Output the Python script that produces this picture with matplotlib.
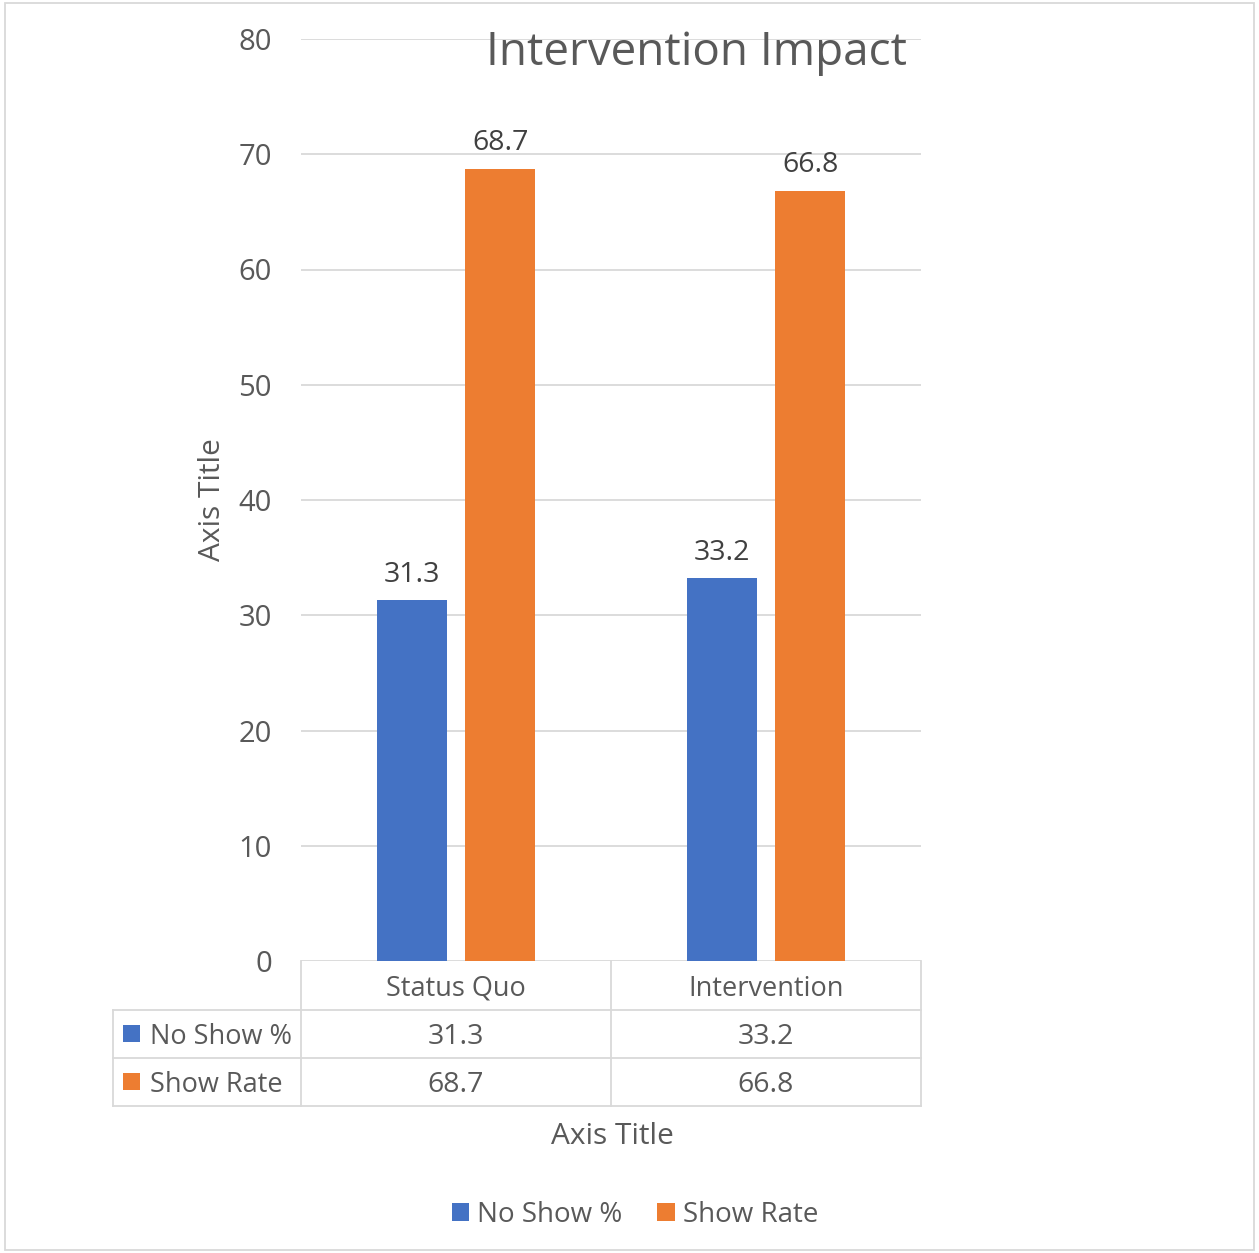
import matplotlib
matplotlib.use("Agg")
import matplotlib.pyplot as plt
from matplotlib.patches import Rectangle
from matplotlib.transforms import blended_transform_factory
import numpy as np

plt.rcParams['font.family'] = ['Open Sans', 'DejaVu Sans']

# Chart data
categories = ["Status Quo", "Intervention"]
no_show = [31.3, 33.2]
show_rate = [68.7, 66.8]
series_names = ["No Show %", "Show Rate"]
y_ticks = [0, 10, 20, 30, 40, 50, 60, 70, 80]
title = "Intervention Impact"

BLUE = "#4472C4"
ORANGE = "#ED7D31"
GRID = "#D9D9D9"
TEXT = "#595959"

W, H = 1259, 1253
fig = plt.figure(figsize=(W / 100, H / 100), dpi=100)


def fx(px):
    return px / W


def fy(py):
    return 1 - py / H


# plot area in pixel terms
L, R, T, B = 301, 921, 39, 961
ax = fig.add_axes([fx(L), fy(B), (R - L) / W, (B - T) / H])
ax.set_xlim(-0.5, len(categories) - 0.5)
ax.set_ylim(0, 80)
for s in ax.spines.values():
    s.set_visible(False)
ax.set_yticks(y_ticks)
ax.set_yticklabels([str(t) for t in y_ticks], fontsize=21, color=TEXT)
ax.tick_params(axis='y', length=0, pad=21)
ax.set_xticks([])
for t in y_ticks:
    ax.axhline(t, color=GRID, lw=1.3, zorder=0)

x = np.arange(len(categories))
bw, gap = 0.225, 0.06
off = (bw + gap) / 2
b1 = ax.bar(x - off, no_show, bw, color=BLUE, label=series_names[0], zorder=2)
b2 = ax.bar(x + off, show_rate, bw, color=ORANGE, label=series_names[1], zorder=2)
for bars, vals in ((b1, no_show), (b2, show_rate)):
    for rect, v in zip(bars, vals):
        ax.annotate(f"{v}", (rect.get_x() + rect.get_width() / 2, v),
                    xytext=(0, 13.5), textcoords="offset points",
                    ha="center", va="baseline", fontsize=20.5, color="#404040")

fig.text(fx(697), fy(53), title, ha="center", va="center",
         fontsize=33, color=TEXT)

fig.text(fx(212), fy(500), "Axis Title", ha="center", va="center",
         rotation=90, fontsize=21.5, color=TEXT)


# data table below the plot area
def ay(py):
    return (B - py) / (B - T)


def dxp(px):
    return -0.5 + (px - L) / (R - L) * len(categories)


tr = blended_transform_factory(ax.transData, ax.transAxes)
line_kw = dict(color=GRID, lw=1.3, transform=tr, clip_on=False)
row_y = [961, 1010, 1058, 1106]
for yy in row_y[1:]:
    ax.plot([dxp(113), dxp(R)], [ay(yy), ay(yy)], **line_kw)
for xb in np.arange(len(categories) + 1) - 0.5:
    ax.plot([xb, xb], [ay(961), ay(1106)], **line_kw)
ax.plot([dxp(113), dxp(113)], [ay(1010), ay(1106)], **line_kw)

for i, c in enumerate(categories):
    ax.text(i, ay(989), c, transform=tr, ha="center", va="center",
            fontsize=19.5, color=TEXT)
    ax.text(i, ay(1037), f"{no_show[i]}", transform=tr, ha="center",
            va="center", fontsize=20.5, color=TEXT)
    ax.text(i, ay(1085), f"{show_rate[i]}", transform=tr, ha="center",
            va="center", fontsize=20.5, color=TEXT)

for name, col, yc in ((series_names[0], BLUE, 1034), (series_names[1], ORANGE, 1082)):
    ax.add_patch(Rectangle((dxp(123), ay(yc + 8)), dxp(140) - dxp(123),
                           ay(yc - 9) - ay(yc + 8), transform=tr,
                           facecolor=col, edgecolor="none", clip_on=False))
    ax.text(dxp(150), ay(yc + 3), name, transform=tr, ha="left", va="center",
            fontsize=19.5, color=TEXT)

fig.text(fx(612), fy(1137), "Axis Title", ha="center", va="center",
         fontsize=21.5, color=TEXT)

leg = fig.legend(handles=[b1, b2], loc="center",
                 bbox_to_anchor=(fx(635), fy(1215)), ncol=2, frameon=False,
                 fontsize=20, handlelength=0.62, handleheight=0.62,
                 handletextpad=0.3, columnspacing=1.25, labelcolor=TEXT)

fig.patches.append(Rectangle((fx(5), fy(1250)), fx(1254) - fx(5),
                             fy(3) - fy(1250), transform=fig.transFigure,
                             facecolor="none", edgecolor=GRID, lw=1.3))

fig.savefig("out.png", dpi=100)
